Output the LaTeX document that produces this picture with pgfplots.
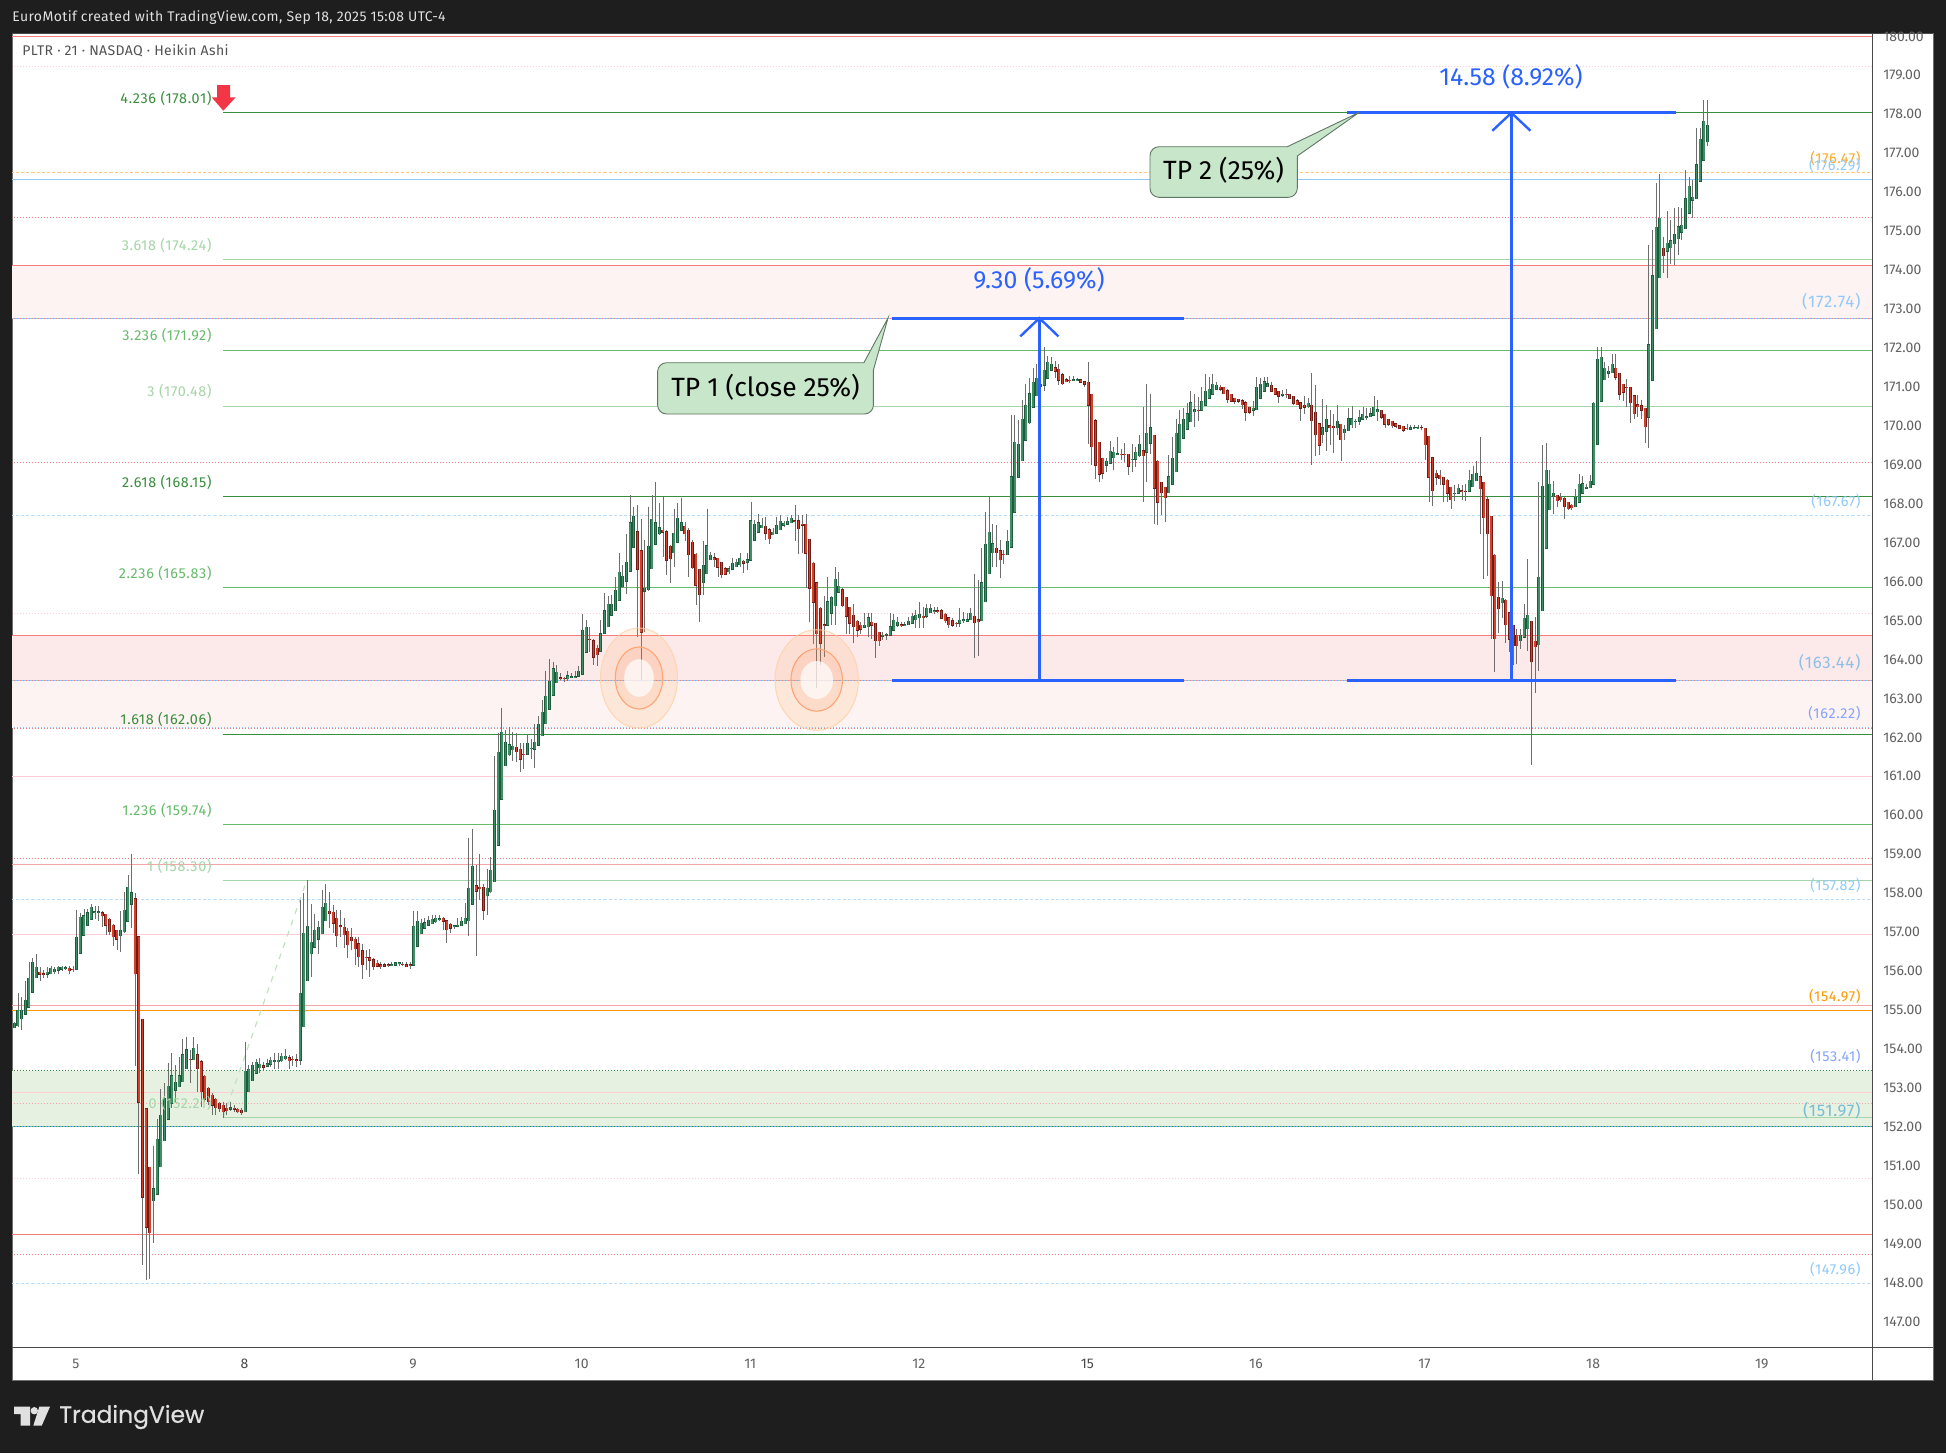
\documentclass[border=0pt]{standalone}
\usepackage{pgfplots}
\usepackage{pgfplotstable}
\usepackage{fontspec}
\pgfplotsset{compat=1.18}
\setmainfont{Fira Sans}
\newfontfamily\lsA[LetterSpace=4.5]{Fira Sans}
\newfontfamily\lsB[LetterSpace=2.7]{Fira Sans}
\newfontfamily\logofont[FakeBold=0.6]{Poppins}
\definecolor{bg}{HTML}{1E1E1E}
\definecolor{edgeg}{HTML}{6E6E6E}
\definecolor{axl}{HTML}{4A4A4A}
\definecolor{rd}{HTML}{F77C80}
\definecolor{pk}{HTML}{FFCDD2}
\definecolor{salm}{HTML}{F4A6A6}
\definecolor{bl}{HTML}{90CAF9}
\definecolor{lbl}{HTML}{BBDEFB}
\definecolor{orng}{HTML}{FF9800}
\definecolor{lorng}{HTML}{FFC878}
\definecolor{gA}{HTML}{388E3C}
\definecolor{gB}{HTML}{66BB6A}
\definecolor{gC}{HTML}{A5D6A7}
\definecolor{meas}{HTML}{2962FF}
\definecolor{wick}{HTML}{6E6E6E}
\definecolor{upo}{HTML}{1D5B3C}
\definecolor{upf}{HTML}{3F8F66}
\definecolor{dno}{HTML}{701C14}
\definecolor{dnf}{HTML}{D63F2C}
\definecolor{bubf}{HTML}{C8E6C9}
\definecolor{bubd}{HTML}{5F7763}
\definecolor{redarr}{HTML}{F23645}
\pgfplotstableread{
k t b h l u
0 154.63 154.52 154.67 154.50 1
1 154.97 154.57 155.40 154.54 1
2 154.97 154.75 155.32 154.46 1
3 155.22 154.86 155.72 154.84 1
4 155.79 155.04 156.21 155.02 1
5 156.20 155.43 156.30 155.40 1
6 156.07 155.80 156.41 155.79 1
7 155.94 155.89 156.07 155.73 0
8 155.91 155.89 156.00 155.79 0
9 155.94 155.89 156.07 155.79 1
10 156.04 155.91 156.11 155.90 1
11 156.02 155.96 156.09 155.91 1
12 156.07 155.99 156.10 155.91 1
13 156.07 156.02 156.11 155.98 1
14 156.06 156.04 156.11 156.00 1
15 156.04 155.98 156.10 155.91 0
16 156.02 156.01 156.10 155.96 0
17 156.84 156.02 157.54 156.00 1
18 157.35 156.43 157.47 156.41 1
19 157.40 156.89 157.56 156.87 1
20 157.47 157.15 157.56 157.13 1
21 157.61 157.30 157.69 157.28 1
22 157.49 157.47 157.64 157.30 1
23 157.49 157.48 157.64 157.27 1
24 157.47 157.39 157.51 157.11 0
25 157.43 157.15 157.45 156.90 0
26 157.30 156.98 157.33 156.90 0
27 157.15 156.86 157.18 156.62 0
28 157.02 156.79 157.04 156.51 0
29 157.02 156.88 157.51 156.47 1
30 157.53 156.98 158.00 156.96 1
31 158.12 157.25 158.44 157.23 1
32 157.99 157.69 158.98 157.09 1
33 157.83 155.91 157.97 153.53 0
34 156.86 152.60 156.87 150.76 0
35 154.73 150.16 154.75 148.43 0
36 152.44 149.39 152.46 148.04 0
37 150.93 149.26 150.95 148.07 0
38 150.39 150.08 151.48 149.00 1
39 151.65 150.24 152.17 150.22 1
40 152.27 150.95 152.94 150.93 1
41 152.71 151.62 153.09 151.60 1
42 153.02 152.17 153.62 152.15 1
43 153.28 152.58 153.86 152.45 1
44 153.12 152.92 153.56 152.62 1
45 153.28 153.00 153.76 152.99 1
46 153.83 153.13 154.23 153.12 1
47 153.95 153.47 154.29 153.45 1
48 153.71 153.70 153.95 153.09 0
49 153.99 153.70 154.28 153.69 1
50 153.83 153.47 154.10 152.88 0
51 153.65 152.88 153.69 152.49 0
52 153.27 152.68 153.30 152.62 0
53 152.96 152.62 152.99 152.53 0
54 152.78 152.53 152.83 152.28 0
55 152.68 152.47 152.71 152.28 0
56 152.58 152.44 152.60 152.36 0
57 152.53 152.36 152.62 152.19 0
58 152.45 152.39 152.59 152.28 0
59 152.47 152.42 152.62 152.39 1
60 152.45 152.42 152.53 152.36 0
61 152.42 152.36 152.47 152.34 0
62 152.40 152.34 152.45 152.28 0
63 153.40 152.36 154.14 152.35 1
64 153.45 152.88 153.56 152.86 1
65 153.55 153.16 153.65 153.14 1
66 153.63 153.35 153.71 153.33 1
67 153.58 153.49 153.73 153.35 1
68 153.54 153.51 153.65 153.43 0
69 153.60 153.53 153.71 153.50 1
70 153.68 153.58 153.77 153.50 1
71 153.67 153.64 153.86 153.47 1
72 153.68 153.65 153.86 153.45 1
73 153.78 153.67 153.86 153.65 1
74 153.78 153.72 153.96 153.69 1
75 153.75 153.67 153.82 153.46 0
76 153.71 153.70 153.79 153.53 0
77 153.70 153.68 153.84 153.52 0
78 155.40 153.68 157.81 153.55 1
79 156.94 154.54 157.97 154.53 1
80 157.12 155.73 158.31 155.71 1
81 156.71 156.42 157.69 155.83 1
82 157.02 156.58 157.44 156.56 1
83 157.10 156.79 157.27 156.41 1
84 157.61 156.93 158.05 156.92 1
85 157.71 157.27 158.21 157.25 1
86 157.51 157.45 158.00 157.07 0
87 157.48 157.20 157.67 156.96 0
88 157.33 156.88 157.54 156.60 0
89 157.13 157.11 157.54 156.86 0
90 157.10 156.91 157.33 156.56 0
91 156.99 156.65 157.07 156.30 0
92 156.84 156.75 157.07 156.51 0
93 156.79 156.55 156.86 156.13 0
94 156.68 156.34 156.86 156.09 0
95 156.50 156.14 156.68 155.78 0
96 156.33 156.32 156.51 156.00 0
97 156.32 156.25 156.53 155.83 0
98 156.27 156.09 156.30 156.00 0
99 156.17 156.10 156.26 156.07 0
100 156.14 156.09 156.21 156.02 0
101 156.13 156.10 156.17 156.07 0
102 156.13 156.11 156.17 156.07 0
103 156.14 156.12 156.20 156.10 1
104 156.19 156.12 156.21 156.10 1
105 156.18 156.16 156.21 156.11 1
106 156.15 156.14 156.21 156.10 0
107 156.14 156.09 156.21 156.07 0
108 156.13 156.12 156.21 156.02 0
109 157.12 156.12 157.52 156.10 1
110 157.25 156.61 157.52 156.59 1
111 157.20 156.93 157.32 156.92 1
112 157.22 157.07 157.33 157.05 1
113 157.28 157.15 157.39 157.13 1
114 157.30 157.19 157.41 157.17 1
115 157.33 157.24 157.41 157.22 1
116 157.32 157.30 157.41 157.27 1
117 157.33 157.25 157.37 157.04 0
118 157.27 157.04 157.28 156.70 0
119 157.17 157.07 157.20 156.96 0
120 157.13 157.11 157.15 157.06 1
121 157.15 157.12 157.33 157.10 1
122 157.25 157.14 157.35 157.12 1
123 157.33 157.19 157.71 157.17 1
124 158.10 157.27 159.38 156.88 1
125 158.66 157.69 159.61 157.67 1
126 158.17 158.02 158.70 156.36 0
127 158.12 158.09 158.99 157.80 0
128 158.12 157.54 158.21 157.28 0
129 158.10 157.91 158.59 157.41 1
130 158.56 158.01 158.89 157.99 1
131 160.10 158.27 161.49 158.25 1
132 161.59 159.20 162.08 159.18 1
133 162.10 160.38 162.74 160.36 1
134 161.85 161.25 162.16 161.24 1
135 161.79 161.53 162.23 161.49 1
136 161.74 161.66 162.10 161.37 1
137 161.72 161.61 162.08 161.35 0
138 161.67 161.41 161.82 161.09 0
139 161.54 161.53 161.84 161.17 0
140 161.82 161.54 162.05 161.52 1
141 161.69 161.68 161.92 161.43 1
142 161.85 161.67 162.32 161.19 1
143 162.31 161.77 162.52 161.75 1
144 162.62 162.02 162.93 162.01 1
145 163.03 162.33 163.68 162.32 1
146 163.41 162.69 163.98 162.67 1
147 163.74 163.05 163.92 163.03 1
148 163.64 163.38 163.83 163.36 1
149 163.51 163.49 163.62 163.45 0
150 163.49 163.48 163.53 163.40 0
151 163.56 163.48 163.68 163.43 1
152 163.53 163.52 163.62 163.49 1
153 163.53 163.52 163.68 163.49 1
154 163.67 163.54 163.80 163.52 1
155 164.72 163.59 165.14 163.57 1
156 164.80 164.16 165.00 164.14 1
157 164.49 164.48 164.80 164.17 0
158 164.46 164.03 164.49 163.83 0
159 164.26 164.10 164.34 163.81 0
160 164.64 164.18 164.99 164.16 1
161 165.23 164.65 165.67 164.63 1
162 165.39 164.81 165.60 164.80 1
163 165.39 165.11 165.63 165.09 1
164 165.75 165.23 166.08 165.22 1
165 166.21 165.49 166.70 165.47 1
166 166.11 165.84 166.39 165.82 1
167 166.47 165.98 167.19 165.65 1
168 167.49 166.24 168.19 166.22 1
169 167.65 166.85 167.90 166.83 1
170 167.26 166.29 167.94 164.56 0
171 166.77 164.67 167.57 163.45 0
172 165.80 165.72 167.04 164.69 1
173 166.88 165.76 167.90 165.74 1
174 167.57 166.31 168.19 166.29 1
175 167.49 166.93 168.52 166.91 1
176 167.36 167.20 167.98 167.18 1
177 167.29 167.24 168.15 166.61 0
178 167.26 166.52 167.30 166.14 0
179 166.88 166.56 166.91 165.94 0
180 167.21 166.72 167.83 166.35 1
181 167.60 166.98 167.98 166.96 1
182 167.49 167.29 168.13 167.27 1
183 167.39 167.20 167.51 167.01 0
184 167.29 166.66 167.34 166.08 0
185 166.98 166.33 167.04 166.31 0
186 166.67 165.88 166.70 165.37 0
187 166.29 165.64 166.31 164.94 0
188 166.39 165.95 167.01 165.64 1
189 166.90 166.18 167.85 166.17 1
190 166.65 166.54 166.73 166.53 1
191 166.59 166.54 166.70 166.34 0
192 166.57 166.34 166.59 166.10 0
193 166.47 166.15 166.48 166.06 0
194 166.31 166.16 166.35 166.14 0
195 166.31 166.23 166.37 166.18 1
196 166.44 166.29 166.57 166.27 1
197 166.47 166.36 166.56 166.35 1
198 166.57 166.41 166.70 166.34 1
199 166.49 166.44 166.53 166.20 0
200 166.54 166.47 166.70 166.27 1
201 167.54 166.52 168.01 166.50 1
202 167.44 167.03 167.55 167.01 1
203 167.49 167.24 167.71 167.22 1
204 167.42 167.36 167.60 167.35 1
205 167.39 167.21 167.64 167.04 0
206 167.31 167.08 167.34 166.94 0
207 167.24 167.18 167.34 167.16 1
208 167.42 167.21 167.64 167.19 1
209 167.52 167.31 167.68 167.30 1
210 167.47 167.42 167.53 167.38 1
211 167.52 167.44 167.64 167.43 1
212 167.60 167.49 167.68 167.47 1
213 167.54 167.53 167.94 167.01 0
214 167.54 167.33 167.68 166.69 0
215 167.44 167.42 167.68 166.70 0
216 167.44 166.70 167.71 165.80 0
217 167.06 165.80 167.08 164.94 0
218 166.44 165.44 166.48 164.37 0
219 165.95 164.64 165.97 163.23 0
220 165.29 164.39 165.31 163.83 0
221 164.86 164.85 165.60 164.04 0
222 165.46 164.85 166.08 164.83 1
223 165.57 165.16 165.60 164.86 1
224 166.03 165.36 166.34 164.86 1
225 165.85 165.70 166.21 165.68 1
226 165.77 165.36 165.80 165.33 0
227 165.57 165.08 165.58 164.64 0
228 165.31 164.90 165.33 164.64 0
229 165.11 164.82 165.40 164.41 0
230 164.95 164.72 164.99 164.56 0
231 164.85 164.75 164.94 164.64 0
232 164.85 164.80 165.16 164.77 1
233 165.05 164.82 165.17 164.56 1
234 164.93 164.85 165.16 164.51 0
235 164.90 164.46 164.92 164.02 0
236 164.67 164.46 164.69 164.33 0
237 164.59 164.57 164.69 164.47 1
238 164.62 164.59 164.66 164.47 1
239 164.82 164.59 165.18 164.57 1
240 164.98 164.72 165.14 164.70 1
241 164.93 164.85 165.07 164.81 1
242 164.87 164.86 164.93 164.81 0
243 164.87 164.86 164.93 164.85 1
244 164.95 164.87 165.07 164.86 1
245 165.08 164.90 165.18 164.88 1
246 165.11 165.00 165.24 164.77 1
247 165.13 165.05 165.44 164.77 1
248 165.08 165.05 165.33 164.77 0
249 165.29 165.08 165.41 165.05 1
250 165.29 165.18 165.40 165.17 1
251 165.23 165.22 165.33 165.14 1
252 165.23 165.21 165.33 165.16 0
253 165.23 165.03 165.27 165.01 0
254 165.13 164.97 165.16 164.90 0
255 165.05 164.87 165.07 164.77 0
256 164.97 164.85 165.03 164.80 0
257 164.90 164.89 164.94 164.81 0
258 164.98 164.90 165.29 164.81 1
259 164.99 164.97 165.20 164.90 1
260 165.00 164.96 165.16 164.94 1
261 165.16 165.00 165.29 164.98 1
262 165.08 164.92 166.18 164.02 0
263 165.00 164.94 166.01 164.07 0
264 165.95 164.97 166.83 164.95 1
265 166.93 165.46 167.77 165.45 1
266 167.24 166.18 168.15 166.17 1
267 166.95 166.71 167.44 166.35 1
268 166.83 166.72 167.42 166.34 0
269 166.77 166.53 167.04 166.06 0
270 166.67 166.66 166.78 166.42 0
271 167.01 166.66 167.30 166.65 1
272 168.67 166.85 170.25 166.83 1
273 169.55 167.75 170.25 167.73 1
274 169.50 168.65 170.12 168.63 1
275 170.14 169.08 170.63 169.07 1
276 170.50 169.60 171.06 169.58 1
277 170.80 170.05 171.19 170.03 1
278 171.09 170.45 171.45 170.43 1
279 171.19 170.75 171.57 170.74 1
280 171.04 170.98 171.36 170.76 1
281 171.40 171.01 171.99 170.87 1
282 171.60 171.19 171.76 171.17 1
283 171.55 171.40 171.73 171.38 1
284 171.47 171.37 171.63 171.19 0
285 171.42 171.14 171.57 171.02 0
286 171.29 171.06 171.32 171.02 0
287 171.16 171.11 171.21 171.09 0
288 171.14 171.13 171.25 171.08 0
289 171.16 171.14 171.25 171.12 1
290 171.16 171.15 171.19 171.15 1
291 171.16 171.09 171.18 171.07 0
292 171.11 171.04 171.13 170.98 0
293 171.09 170.50 171.60 169.50 0
294 170.78 169.44 170.80 168.97 0
295 170.11 168.96 170.14 168.61 0
296 169.55 168.73 169.56 168.54 0
297 169.14 168.75 169.16 168.61 0
298 169.06 168.96 169.16 168.79 1
299 169.32 169.01 169.58 168.99 1
300 169.29 169.16 169.44 168.84 1
301 169.26 169.24 169.68 169.22 1
302 169.24 169.23 169.39 169.09 0
303 169.24 169.23 169.52 169.05 0
304 169.24 168.93 169.25 168.71 0
305 169.12 169.11 169.50 168.79 1
306 169.29 169.11 169.44 168.92 1
307 169.50 169.21 169.73 169.18 1
308 169.34 169.21 170.46 168.02 0
309 169.78 169.29 171.06 168.54 1
310 169.93 169.52 170.80 169.26 1
311 169.73 168.37 169.75 167.46 0
312 169.06 168.01 169.09 167.42 0
313 168.52 168.26 168.54 167.68 0
314 168.39 168.13 168.41 167.51 0
315 168.67 168.26 169.22 168.25 1
316 169.14 168.47 169.68 168.45 1
317 169.78 168.80 170.14 168.78 1
318 170.01 169.29 170.39 169.27 1
319 170.14 169.65 170.42 169.63 1
320 170.29 169.88 170.55 169.86 1
321 170.57 170.08 170.87 170.07 1
322 170.39 170.34 170.80 169.95 1
323 170.37 170.36 170.72 170.09 0
324 170.60 170.37 170.96 170.35 1
325 170.86 170.50 171.30 170.48 1
326 170.91 170.68 171.22 170.66 1
327 171.04 170.78 171.30 170.76 1
328 171.01 170.91 171.10 170.89 1
329 170.96 170.92 171.02 170.87 0
330 170.96 170.80 170.98 170.79 0
331 170.88 170.65 170.91 170.55 0
332 170.78 170.60 170.80 170.58 0
333 170.68 170.60 170.70 170.53 0
334 170.65 170.60 170.67 170.56 0
335 170.62 170.52 170.65 170.40 0
336 170.57 170.32 170.60 170.09 0
337 170.45 170.32 170.46 170.27 0
338 170.42 170.37 170.61 170.23 1
339 170.96 170.39 171.22 170.38 1
340 171.04 170.68 171.19 170.66 1
341 171.11 170.86 171.23 170.84 1
342 171.06 170.98 171.22 170.97 1
343 171.01 170.86 171.10 170.84 0
344 170.93 170.78 170.95 170.76 0
345 170.86 170.73 170.87 170.55 0
346 170.78 170.76 170.89 170.72 1
347 170.78 170.77 170.91 170.70 0
348 170.78 170.68 170.80 170.66 0
349 170.73 170.55 170.74 170.50 0
350 170.62 170.52 170.65 170.50 0
351 170.57 170.42 170.59 170.09 0
352 170.50 170.45 170.74 170.27 0
353 170.55 170.46 170.68 170.42 1
354 170.50 170.11 171.32 168.97 0
355 170.32 169.75 171.02 169.20 0
356 170.03 169.47 170.05 169.22 0
357 169.93 169.75 170.65 169.52 1
358 170.14 169.83 170.52 169.32 1
359 169.98 169.93 170.38 169.48 0
360 169.96 169.93 170.29 169.28 0
361 170.09 169.93 170.50 169.74 1
362 170.01 169.62 170.03 169.08 0
363 169.88 169.80 169.99 169.62 1
364 170.16 169.85 170.42 169.84 1
365 170.16 170.00 170.48 169.93 1
366 170.09 170.08 170.16 169.91 1
367 170.19 170.09 170.38 169.99 1
368 170.27 170.14 170.46 170.12 1
369 170.21 170.19 170.42 170.12 1
370 170.29 170.21 170.42 170.20 1
371 170.45 170.24 170.74 170.22 1
372 170.39 170.34 170.63 170.09 1
373 170.37 170.19 170.39 170.16 0
374 170.27 170.01 170.29 169.93 0
375 170.14 170.01 170.16 169.97 0
376 170.09 169.98 170.10 169.93 0
377 170.03 169.96 170.05 169.91 0
378 169.98 169.91 170.00 169.88 0
379 169.96 169.86 169.97 169.82 0
380 169.91 169.90 170.02 169.86 0
381 169.93 169.88 169.99 169.86 1
382 169.93 169.92 169.99 169.90 1
383 169.93 169.92 169.99 169.90 1
384 169.93 169.92 169.99 169.86 0
385 169.91 169.49 169.93 169.09 0
386 169.70 168.65 169.72 168.02 0
387 169.16 168.31 169.18 167.92 0
388 168.75 168.65 168.85 168.45 0
389 168.70 168.62 168.84 168.45 0
390 168.65 168.48 168.67 168.02 0
391 168.57 168.24 168.60 168.02 0
392 168.39 168.08 168.41 167.85 0
393 168.24 168.23 168.45 168.05 1
394 168.37 168.24 168.49 168.22 1
395 168.31 168.29 168.45 168.07 0
396 168.29 168.28 168.48 168.05 0
397 168.57 168.29 168.85 168.27 1
398 168.73 168.41 168.94 168.39 1
399 168.75 168.56 169.07 168.55 1
400 168.67 168.36 169.69 167.19 0
401 168.52 167.61 168.54 166.04 0
402 168.08 167.20 168.15 166.12 0
403 167.65 165.61 167.66 164.51 0
404 166.65 164.51 166.67 163.65 0
405 165.57 165.28 165.97 164.66 0
406 165.54 165.43 165.99 165.03 1
407 165.49 164.87 165.52 164.40 0
408 165.18 164.49 165.20 164.17 0
409 164.85 164.33 164.87 163.83 0
410 164.59 164.33 164.76 163.87 0
411 164.59 164.46 164.76 164.24 1
412 165.03 164.54 165.40 164.52 1
413 165.11 164.76 166.55 164.20 1
414 164.95 163.92 164.97 161.26 0
415 164.44 164.30 165.07 163.12 0
416 166.08 164.35 168.52 163.68 1
417 168.42 165.23 169.48 165.21 1
418 168.83 166.83 169.52 166.81 1
419 168.47 167.82 168.84 167.80 1
420 168.24 168.15 168.55 167.71 1
421 168.19 168.05 168.21 167.88 0
422 168.14 168.08 168.24 168.02 0
423 168.11 167.90 168.14 167.58 0
424 168.01 167.84 168.02 167.81 0
425 167.93 167.87 167.96 167.81 0
426 168.14 167.90 168.35 167.89 1
427 168.47 168.01 168.73 167.99 1
428 168.49 168.24 168.68 168.22 1
429 168.39 168.37 168.49 168.34 1
430 168.55 168.38 168.71 168.37 1
431 170.55 168.47 170.59 168.45 1
432 171.68 169.50 171.99 169.48 1
433 171.73 170.60 171.99 170.58 1
434 171.45 171.16 171.62 171.15 1
435 171.37 171.32 171.52 171.19 1
436 171.55 171.34 171.81 171.33 1
437 171.45 171.22 171.81 171.15 0
438 171.32 170.78 171.34 170.63 0
439 171.04 170.83 171.06 170.62 0
440 170.96 170.95 171.17 170.46 0
441 170.96 170.57 170.98 170.04 0
442 170.75 170.29 170.77 170.16 0
443 170.52 170.46 170.76 170.21 0
444 170.49 170.37 170.63 170.16 0
445 170.42 169.95 170.44 169.54 0
446 172.06 170.19 174.61 169.41 1
447 173.83 171.14 175.00 171.12 1
448 175.07 172.47 176.20 172.46 1
449 175.30 173.78 176.44 173.77 1
450 174.53 174.34 174.83 173.89 0
451 174.66 174.45 175.49 173.78 1
452 174.73 174.55 175.27 174.13 1
453 174.89 174.65 175.56 174.10 1
454 175.09 174.78 175.58 174.36 1
455 175.12 174.94 175.56 174.74 1
456 175.81 175.04 176.54 175.02 1
457 176.12 175.43 176.37 175.41 1
458 175.84 175.76 176.28 175.32 1
459 176.68 175.81 177.61 175.79 1
460 177.33 176.25 177.61 176.23 1
461 177.79 176.79 178.34 176.77 1
462 177.69 177.27 178.35 177.16 1
}\candles
% one path per colour: wicks and bodies are stroked segments split by nan, read row by row from the table
\gdef\wickP{}\gdef\upOP{}\gdef\upFP{}\gdef\dnOP{}\gdef\dnFP{}
\pgfplotstablegetrowsof{\candles}
\pgfmathtruncatemacro\lastrow{\pgfplotsretval-1}
\pgfplotsforeachungrouped \i in {0,...,\lastrow}{%
 \pgfplotstablegetelem{\i}{k}\of\candles\let\vk\pgfplotsretval
 \pgfplotstablegetelem{\i}{t}\of\candles\let\vt\pgfplotsretval
 \pgfplotstablegetelem{\i}{b}\of\candles\let\vb\pgfplotsretval
 \pgfplotstablegetelem{\i}{h}\of\candles\let\vh\pgfplotsretval
 \pgfplotstablegetelem{\i}{l}\of\candles\let\vl\pgfplotsretval
 \pgfplotstablegetelem{\i}{u}\of\candles\let\vu\pgfplotsretval
 \pgfmathsetmacro\vT{\vt+0.014}%
 \pgfmathsetmacro\vB{\vb-0.014}%
 \xdef\wickP{\wickP(\vk,\vh)(\vk,\vl)(\vk,nan)}%
 \ifnum\vu=1
  \xdef\upOP{\upOP(\vk,\vB)(\vk,\vT)(\vk,nan)}%
  \xdef\upFP{\upFP(\vk,\vb)(\vk,\vt)(\vk,nan)}%
 \else
  \xdef\dnOP{\dnOP(\vk,\vB)(\vk,\vT)(\vk,nan)}%
  \xdef\dnFP{\dnFP(\vk,\vb)(\vk,\vt)(\vk,nan)}%
 \fi
}
\newcommand\seg[2]{\edef\tmpcmd{\noexpand\addplot[#1,mark=none,unbounded coords=jump] coordinates {#2};}\tmpcmd}
\newcommand\lvl[2]{\addplot[#1] coordinates {(-1,#2)(507,#2)};}
\newcommand\fib[2]{\addplot[#1,line width=.5pt] coordinates {(57,#2)(507,#2)};}
\newcommand\band[3]{\addplot[fill=#1,draw=none] coordinates {(-1,#2)(507,#2)(507,#3)(-1,#3)} -- cycle;}
\definecolor{bandA}{HTML}{FDF3F2}
\definecolor{bandB}{HTML}{FCEAEA}
\definecolor{bandC}{HTML}{E7F1E1}
\definecolor{blz}{HTML}{64B5DC}
\tikzset{
 ldot/.style={densely dotted,line width=.5pt},
 ldash/.style={dash pattern=on 1.6pt off 1pt,line width=.42pt},
 lsol/.style={line width=.5pt},
 fs/.style={font=\fontsize{#1}{#1}\selectfont,inner sep=0pt},
 fsa/.style={font=\lsA\fontsize{#1}{#1}\selectfont,inner sep=0pt},
 fsb/.style={font=\lsB\fontsize{#1}{#1}\selectfont,inner sep=0pt}
}
\begin{document}
\begin{tikzpicture}
\begin{scope}[x=0.5pt,y=-0.5pt]
\fill[bg] (0,0) rectangle (1946,1453);
\fill[white] (12,33) rectangle (1933,1380);
\draw[edgeg,line width=.5pt] (12,33) -- (12,1380) -- (1933,1380) -- (1933,33);
\draw[axl,line width=.5pt] (12,33) -- (1933,33);
\end{scope}
\begin{axis}[at={(6pt,-673.5pt)},anchor=south west,scale only axis,width=930pt,height=657pt,
 xmin=-0.63,xmax=506.9,ymin=146.32,ymax=180.06,
 axis line style={draw=none},major tick length=0pt,
 ytick={147,148,...,180},ytick pos=right,
 xtick={16.8,62.8,108.8,154.8,200.8,246.8,292.8,338.8,384.8,430.8,476.8},
 xticklabels={5,\textcolor{axl}{8},9,10,11,12,\textcolor{axl}{15},16,17,18,19},
 xtick pos=bottom,
 xticklabel style={font=\fontsize{7}{8}\selectfont,text=black!62,anchor=center,yshift=-8.5pt,inner sep=0pt},
 yticklabel style={font=\fontsize{7}{8}\selectfont,text=black!62,anchor=west,xshift=5.5pt,yshift=-.5pt,inner sep=0pt,
   /pgf/number format/.cd,fixed,fixed zerofill,precision=2,1000 sep={},assume math mode=true},
 ]
\band{bandA}{174.08}{172.74}
\band{bandB}{164.59}{163.44}
\band{bandA}{163.44}{162.22}
\band{bandC}{153.41}{151.97}
\lvl{rd,lsol}{179.98}
\lvl{pk,ldot}{179.20}
\lvl{lorng,ldash}{176.47}
\lvl{bl,lsol}{176.29}
\lvl{rd,ldot}{175.31}
\lvl{rd,lsol}{174.08}
\lvl{bl,lsol}{172.74}
\lvl{rd,ldot}{172.74}
\lvl{rd,ldot}{169.03}
\lvl{lbl,ldash}{167.67}
\lvl{pk,ldot}{165.15}
\lvl{rd,lsol}{164.59}
\lvl{bl,lsol}{163.44}
\lvl{rd,ldot}{163.44}
\lvl{bl,ldot}{162.23}
\lvl{rd,ldot}{162.21}
\lvl{pk,lsol}{160.96}
\lvl{rd,ldot}{158.86}
\lvl{salm,lsol}{158.71}
\lvl{lbl,ldash}{157.82}
\lvl{pk,lsol}{156.92}
\lvl{salm,lsol}{155.08}
\lvl{orng,line width=.6pt}{154.97}
\lvl{gA,ldot}{153.41}
\lvl{pk,lsol}{152.86}
\lvl{salm,ldot}{152.58}
\lvl{blz,line width=.9pt}{151.98}
\lvl{gA,ldot}{151.97}
\lvl{pk,ldot}{150.65}
\lvl{rd,lsol}{149.21}
\lvl{rd,ldot}{148.70}
\lvl{lbl,ldash}{147.96}
\fib{gA}{178.01}
\fib{gC}{174.24}
\fib{gB}{171.92}
\fib{gC}{170.48}
\fib{gA}{168.15}
\fib{gB}{165.83}
\fib{gA}{162.06}
\fib{gB}{159.74}
\fib{gC}{158.30}
\fib{gC}{152.21}
\addplot[bubf!80!gC,line width=.6pt,dash pattern=on 3pt off 3pt] coordinates {(57,152.21)(79.8,158.30)};
\seg{wick,line width=.42pt}{\wickP}
\seg{upo,line width=1.5pt}{\upOP}
\seg{upf,line width=.8pt}{\upFP}
\seg{dno,line width=1.5pt}{\dnOP}
\seg{dnf,line width=.8pt}{\dnFP}
% measures
\addplot[meas,line width=1.5pt] coordinates {(239.5,172.74)(319.1,172.74)};
\addplot[meas,line width=1.5pt] coordinates {(239.5,163.44)(319.1,163.44)};
\addplot[meas,line width=1.5pt] coordinates {(279.7,163.44)(279.7,172.74)};
\addplot[meas,line width=1.2pt] coordinates {(274.5,172.27)(279.7,172.74)(284.9,172.27)};
\addplot[meas,line width=1.5pt] coordinates {(363.6,178.01)(453.3,178.01)};
\addplot[meas,line width=1.5pt] coordinates {(363.6,163.44)(453.3,163.44)};
\addplot[meas,line width=1.5pt] coordinates {(408.5,163.44)(408.5,178.01)};
\addplot[meas,line width=1.2pt] coordinates {(403.3,177.55)(408.5,178.01)(413.7,177.55)};
\end{axis}
\begin{scope}[x=0.5pt,y=-0.5pt]
\draw[axl,line width=.5pt] (12,1347) -- (1933,1347);
\draw[axl,line width=.5pt] (1872,33) -- (1872,1380);
% circles
\foreach \cx/\cy/\ra/\rb/\rc/\ya/\yb/\yc in {639/678/38.5/23.7/14.8/50/31/18.8,816.7/680/41.7/25.7/16.3/50.3/31.2/19}{
 \fill[orange!70,opacity=.15] (\cx,\cy) ellipse [x radius=\ra,y radius=\ya];
 \draw[orange!35,line width=.5pt,opacity=.8] (\cx,\cy) ellipse [x radius=\ra,y radius=\ya];
 \fill[red!50!orange,opacity=.07] (\cx,\cy) ellipse [x radius=\rb,y radius=\yb];
 \draw[red!30!orange!55,line width=.55pt] (\cx,\cy) ellipse [x radius=\rb,y radius=\yb];
 \fill[white,opacity=.72] (\cx,\cy) ellipse [x radius=\rc,y radius=\yc];
}
% red arrow
\fill[redarr] (217,85) -- (230,85) -- (230,97.3) -- (235.7,97.3) -- (223.3,110.7) -- (211.7,97.3) -- (217,97.3) -- cycle;
% bubbles
\draw[bubd,fill=bubf,line width=.45pt] (760,362.7) [sharp corners] -- (863.9,362.7) -- (888,318) -- (873.4,370) [rounded corners=4.5pt] -- (873.4,414) -- (657.6,414) -- (657.6,362.7) -- cycle;
\node[fs=13.2,text=black] at (765.5,387) {TP 1 (close 25\%)};
\draw[bubd,fill=bubf,line width=.45pt] (1220,146.7) [sharp corners] -- (1287.3,146.7) -- (1359.3,112.3) -- (1297.3,156) [rounded corners=4.5pt] -- (1297.3,197.3) -- (1150,197.3) -- (1150,146.7) -- cycle;
\node[fs=13.2,text=black] at (1223.5,170) {TP 2 (25\%)};
% measure labels
\node[fs=12.4,text=meas] at (1039,280) {9.30 (5.69\%)};
\node[fs=12.4,text=meas] at (1511,76.5) {14.58 (8.92\%)};
% fib labels
\node[fsa=7.2,text=gA,anchor=east] at (212,98) {4.236 (178.01)};
\node[fsa=7.2,text=gC,anchor=east] at (212,245) {3.618 (174.24)};
\node[fsa=7.2,text=gB,anchor=east] at (212,335) {3.236 (171.92)};
\node[fsa=7.2,text=gC,anchor=east] at (212,391) {3 (170.48)};
\node[fsa=7.2,text=gA,anchor=east] at (212,482) {2.618 (168.15)};
\node[fsa=7.2,text=gB,anchor=east] at (212,573) {2.236 (165.83)};
\node[fsa=7.2,text=gA,anchor=east] at (212,719) {1.618 (162.06)};
\node[fsa=7.2,text=gB,anchor=east] at (212,810) {1.236 (159.74)};
\node[fsa=7.2,text=gC,anchor=east] at (212,866) {1 (158.30)};
\node[fsa=7.2,text=gC,anchor=east] at (212,1103) {0 (152.21)};
% right labels
\node[fsa=7.2,text=orng!85,anchor=east] at (1861,158) {(176.47)};
\node[fsa=7.2,text=bl,anchor=east] at (1861,165) {(176.29)};
\node[fsa=8.4,text=bl,anchor=east] at (1861,301.5) {(172.74)};
\node[fsa=7.2,text=bl,anchor=east] at (1861,501) {(167.67)};
\node[fsa=8.4,text=bl!85!gray,anchor=east] at (1861,663) {(163.44)};
\node[fsa=7.2,text=bl!70!blue!80!white,anchor=east] at (1861,713) {(162.22)};
\node[fsa=7.2,text=bl,anchor=east] at (1861,885) {(157.82)};
\node[fsa=7.2,text=orng,anchor=east] at (1861,996.5) {(154.97)};
\node[fsa=7.2,text=bl!70!blue!80!white,anchor=east] at (1861,1056.5) {(153.41)};
\node[fsa=8.4,text=bl!60!teal!80!white,anchor=east] at (1861,1110.5) {(151.97)};
\node[fsa=7.2,text=bl,anchor=east] at (1861,1269) {(147.96)};
% header
\node[fsb=7,text=black!12,anchor=west] at (12,18) {EuroMotif created with TradingView.com, Sep 18, 2025 15:08 UTC-4};
\node[fsb=7,text=black!68,anchor=west] at (22,51) {PLTR · 21 · NASDAQ · Heikin Ashi};
% logo
\fill[black!12] (14,1406.7) -- (30,1406.7) -- (30,1425.7) -- (20.7,1425.7) -- (20.7,1414) -- (14,1414) -- cycle;
\fill[black!12] (34.3,1410.7) circle (3.7);
\fill[black!12] (39.3,1406.7) -- (50,1406.7) -- (41.7,1425.7) -- (33.3,1425.7) -- cycle;
\node[text=black!12,anchor=west,inner sep=0pt,font=\logofont\fontsize{11.7}{11.7}\selectfont] at (59,1417) {TradingView};
\end{scope}
\end{tikzpicture}
\end{document}
